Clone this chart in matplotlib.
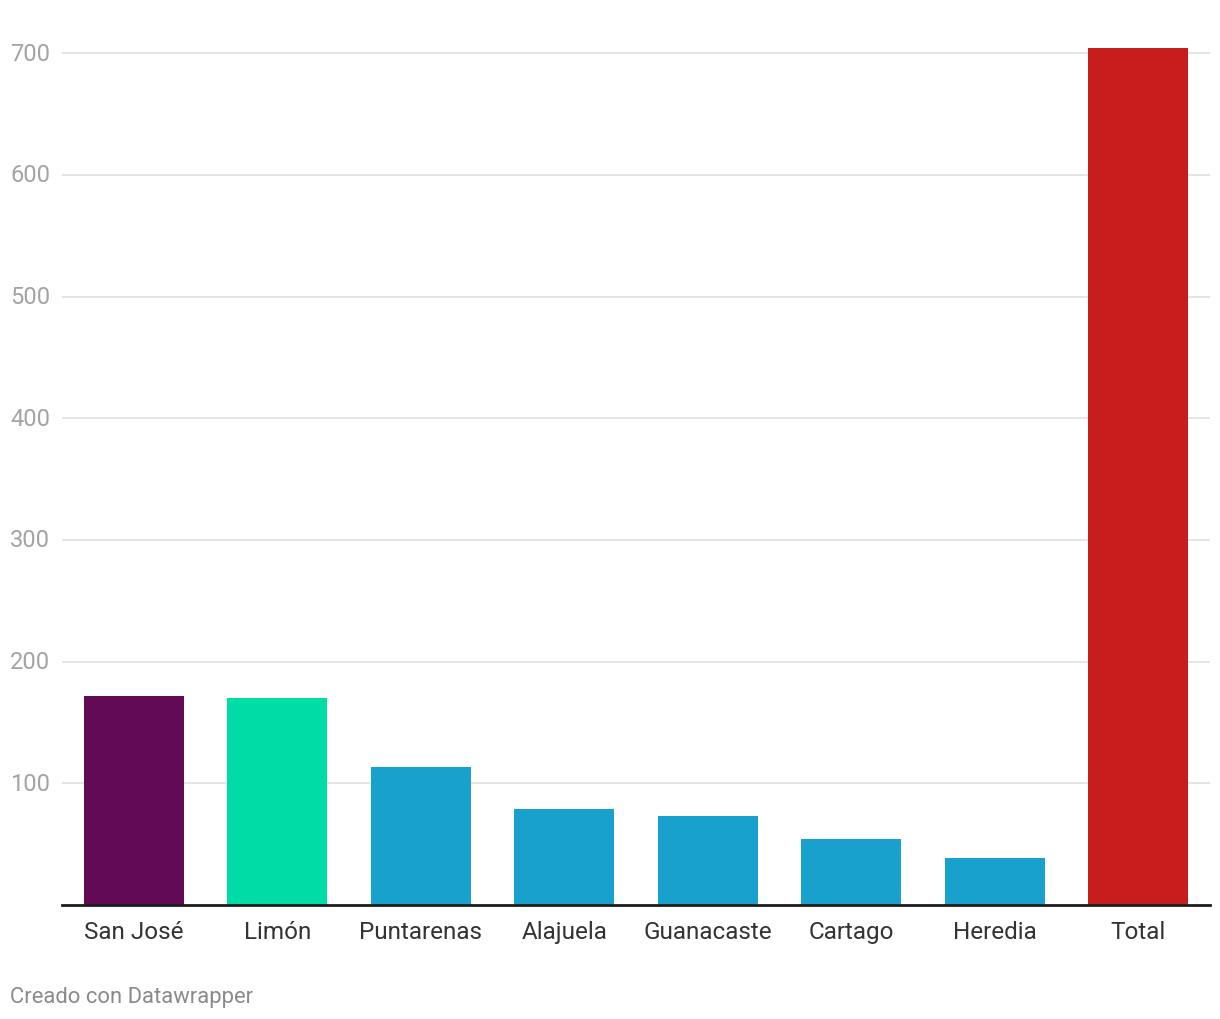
import matplotlib.pyplot as plt

# Data
provincias = ['San José', 'Limón', 'Puntarenas', 'Alajuela', 'Guanacaste', 'Cartago', 'Heredia', 'Total']
valores = [172, 170, 113, 79, 73, 54, 39, 704]
colores = ['#630a57', '#00dca6', '#18a1cd', '#18a1cd', '#18a1cd', '#18a1cd', '#18a1cd', '#c71e1d']
ticks_y = [100, 200, 300, 400, 500, 600, 700]

plt.rcParams['font.family'] = ['Roboto', 'DejaVu Sans']

W, H = 1220, 1020
fig = plt.figure(figsize=(W / 100, H / 100), dpi=100)

# axes placed in pixel coordinates
left, right = 62, 1210
bottom_px = 906
ymax = 720
px_per_unit = 121.7 / 100
top_px = bottom_px - ymax * px_per_unit
ax = fig.add_axes([left / W, (H - bottom_px) / H, (right - left) / W, (bottom_px - top_px) / H])

x = range(len(provincias))
ax.bar(x, valores, width=0.70, color=colores, zorder=3)

ax.set_xlim(-0.5, len(provincias) - 0.5)
ax.set_ylim(0, ymax)

# gridlines
for t in ticks_y:
    ax.axhline(t, color='#e3e3e3', linewidth=1.3, zorder=1)
ax.set_yticks([])

# y labels at the far left, over the gridlines
for t in ticks_y:
    y_fig = (H - (bottom_px - t * px_per_unit)) / H
    fig.text(10 / W, y_fig, str(t), ha='left', va='center', fontsize=17, color='#a3a3a3')

# x axis line and category labels
for side in ['top', 'right', 'left']:
    ax.spines[side].set_visible(False)
ax.spines['bottom'].set_color('#1d1d1d')
ax.spines['bottom'].set_linewidth(2)
ax.spines['bottom'].set_zorder(4)
ax.set_xticks(list(x))
ax.set_xticklabels(provincias, fontsize=17.5, color='#333333')
ax.tick_params(axis='x', length=0, pad=11)

# footer
fig.text(10 / W, (H - 998) / H, 'Creado con Datawrapper', ha='left', va='center',
         fontsize=15.8, color='#8a8a8a')

fig.savefig('out.png', dpi=100, facecolor='white')
